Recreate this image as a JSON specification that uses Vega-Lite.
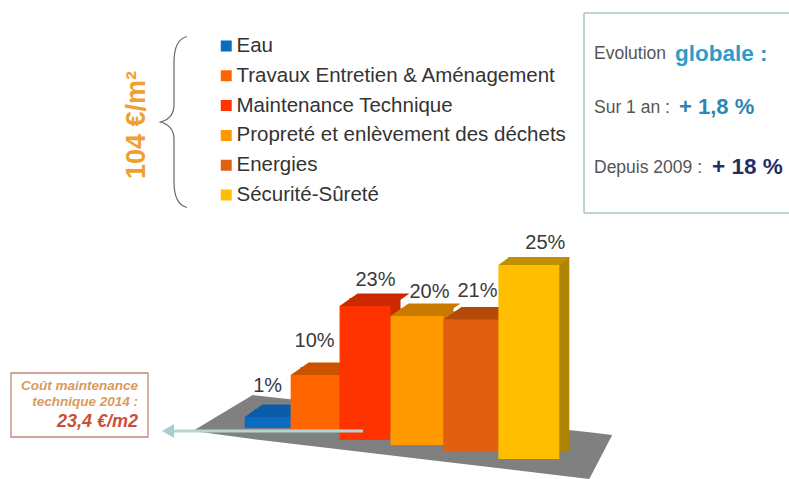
{
"$schema":"https://vega.github.io/schema/vega-lite/v6.json",
"width":789,"height":479,"padding":0,
"autosize":{"type":"fit","contains":"padding"},
"background":"white",
"config":{"view":{"stroke":null},"font":"Liberation Sans"},
"resolve":{"scale":{"color":"independent"}},
"datasets":{
"postes":[
{"poste":"Eau","part":1,"etiquette":"1%","debut":0,"fin":0.885,"haut":5.71,"base":4.31,"etiqX":0.442,"etiqY":9.645},
{"poste":"Travaux Entretien & Aménagement","part":10,"etiquette":"10%","debut":0.885,"fin":1.827,"haut":11.04,"base":3.93,"etiqX":1.346,"etiqY":15.36},
{"poste":"Maintenance Technique","part":23,"etiquette":"23%","debut":1.827,"fin":2.808,"haut":19.8,"base":2.79,"etiqX":2.519,"etiqY":23.1},
{"poste":"Propreté et enlèvement des déchets","part":20,"etiquette":"20%","debut":2.808,"fin":3.827,"haut":18.53,"base":2.16,"etiqX":3.558,"etiqY":21.57},
{"poste":"Energies","part":21,"etiquette":"21%","debut":3.827,"fin":4.885,"haut":18.08,"base":1.4,"etiqX":4.481,"etiqY":21.7},
{"poste":"Sécurité-Sûreté","part":25,"etiquette":"25%","debut":4.885,"fin":6.058,"haut":25,"base":0.38,"etiqX":5.788,"etiqY":27.79}
],
"socle":[
{"cx":-1,"h":3.93,"b":3.93},
{"cx":0.154,"h":8.5,"b":2.92},
{"cx":6.635,"h":3.76,"b":-2.157},
{"cx":7.077,"h":3.43,"b":3.43}
]
},
"layer":[
{"data":{"name":"socle"},"mark":{"type":"area","color":"#808080","interpolate":"linear"},
"encoding":{
"x":{"field":"cx","type":"quantitative","axis":null,"scale":{"domain":[-4.712,10.462],"nice":false,"zero":false}},
"y":{"field":"h","type":"quantitative","axis":null,"scale":{"domain":[-2.157,58.63],"nice":false,"zero":false}},
"y2":{"field":"b"}}},
{"data":{"name":"postes"},"mark":{"type":"rect","xOffset":10,"x2Offset":10,"yOffset":-8,"y2Offset":-8},
"encoding":{
"x":{"field":"debut","type":"quantitative"},"x2":{"field":"fin"},
"y":{"field":"haut","type":"quantitative"},"y2":{"field":"base"},
"color":{"field":"poste","type":"nominal","legend":null,"scale":{"domain":["Eau","Travaux Entretien & Aménagement","Maintenance Technique","Propreté et enlèvement des déchets","Energies","Sécurité-Sûreté"],"range":["#0B5CA8","#CC5200","#CC2900","#C97A00","#B34A0A","#AD8500"]}}}},
{"data":{"name":"postes"},"transform":[{"filter":"datum.part !== 25"}],
"mark":{"type":"point","filled":true,"opacity":1,"strokeWidth":0,"size":4900,"shape":"M0,0 L1.486,0 L2,-0.36 L0.514,-0.36 Z"},
"encoding":{
"x":{"field":"debut","type":"quantitative"},
"y":{"field":"haut","type":"quantitative"},
"color":{"field":"poste","type":"nominal","legend":null,"scale":{"domain":["Eau","Travaux Entretien & Aménagement","Maintenance Technique","Propreté et enlèvement des déchets","Energies"],"range":["#0B5CA8","#CC5200","#CC2900","#C97A00","#B34A0A"]}}}},
{"data":{"name":"postes"},"transform":[{"filter":"datum.part === 25"}],
"mark":{"type":"point","filled":true,"opacity":1,"strokeWidth":0,"size":5184,"shape":"M0,0 L1.694,0 L2,-0.222 L0.306,-0.222 Z"},
"encoding":{
"x":{"field":"debut","type":"quantitative"},
"y":{"field":"haut","type":"quantitative"},
"color":{"field":"poste","type":"nominal","legend":null,"scale":{"domain":["Sécurité-Sûreté"],"range":["#BF9000"]}}}},
{"data":{"name":"postes"},"mark":{"type":"rect"},
"encoding":{
"x":{"field":"debut","type":"quantitative"},"x2":{"field":"fin"},
"y":{"field":"haut","type":"quantitative"},"y2":{"field":"base"},
"color":{"field":"poste","type":"nominal",
"scale":{"domain":["Eau","Travaux Entretien & Aménagement","Maintenance Technique","Propreté et enlèvement des déchets","Energies","Sécurité-Sûreté"],"range":["#0A6CC0","#FF6600","#FF3300","#FF9900","#E06010","#FFBF00"]},
"legend":{"title":null,"orient":"none","legendX":216,"legendY":36,"symbolType":"square","symbolSize":120,"symbolStrokeWidth":0,"labelFont":"Liberation Sans","labelFontSize":20.5,"labelColor":"#333333","labelOffset":0,"clipHeight":20,"rowPadding":8.8,"labelLimit":400}}}},
{"data":{"name":"postes"},"mark":{"type":"text","font":"Liberation Sans","fontSize":20,"color":"#3a3a3a","baseline":"middle","align":"center"},
"encoding":{
"x":{"field":"etiqX","type":"quantitative"},
"y":{"field":"etiqY","type":"quantitative"},
"text":{"field":"etiquette"}}},
{"data":{"values":[{"t":"104 €/m²"}]},"mark":{"type":"text","x":137,"y":125,"angle":270,"align":"center","baseline":"middle","fontSize":27,"fontWeight":"bold","color":"#F0A030"},"encoding":{"text":{"field":"t"}}},
{"data":{"values":[{"n":"accolade"}]},"mark":{"type":"point","x":174,"y":122,"size":29241,"filled":false,"fill":null,"stroke":"#666666","strokeWidth":1.2,"opacity":1,"shape":"M0.15,-1 C0.03,-0.97 0,-0.85 0,-0.7 L0,-0.2 C0,-0.1 -0.05,-0.03 -0.16,0 C-0.05,0.03 0,0.1 0,0.2 L0,0.7 C0,0.85 0.03,0.97 0.15,1"},"encoding":{}},
{"data":{"values":[{"n":"haut"}]},"mark":{"type":"rule","color":"#A8C4CC","strokeWidth":1.5},"encoding":{"x":{"value":584},"x2":{"value":789},"y":{"value":13}}},
{"data":{"values":[{"n":"bas"}]},"mark":{"type":"rule","color":"#A8C4CC","strokeWidth":1.5},"encoding":{"x":{"value":584},"x2":{"value":789},"y":{"value":213}}},
{"data":{"values":[{"n":"gauche"}]},"mark":{"type":"rule","color":"#A8C4CC","strokeWidth":1.5},"encoding":{"x":{"value":584},"y":{"value":13},"y2":{"value":213}}},
{"data":{"values":[{"t":"Evolution"}]},"mark":{"type":"text","x":594,"y":54,"align":"left","baseline":"middle","fontSize":17.5,"color":"#555555"},"encoding":{"text":{"field":"t"}}},
{"data":{"values":[{"t":"globale :"}]},"mark":{"type":"text","x":675,"y":54,"align":"left","baseline":"middle","fontSize":22.5,"fontWeight":"bold","color":"#2E9CC8"},"encoding":{"text":{"field":"t"}}},
{"data":{"values":[{"t":"Sur 1 an :"}]},"mark":{"type":"text","x":594,"y":108,"align":"left","baseline":"middle","fontSize":17.5,"color":"#555555"},"encoding":{"text":{"field":"t"}}},
{"data":{"values":[{"t":"+ 1,8 %"}]},"mark":{"type":"text","x":679,"y":107,"align":"left","baseline":"middle","fontSize":22,"fontWeight":"bold","color":"#2D86B4"},"encoding":{"text":{"field":"t"}}},
{"data":{"values":[{"t":"Depuis 2009 :"}]},"mark":{"type":"text","x":594,"y":168,"align":"left","baseline":"middle","fontSize":17.5,"color":"#555555"},"encoding":{"text":{"field":"t"}}},
{"data":{"values":[{"t":"+ 18 %"}]},"mark":{"type":"text","x":712,"y":167,"align":"left","baseline":"middle","fontSize":22.5,"fontWeight":"bold","color":"#1F2F66"},"encoding":{"text":{"field":"t"}}},
{"data":{"values":[{"n":"cadre"}]},"mark":{"type":"rect","fill":"white","stroke":"#C08878","strokeWidth":1.3},"encoding":{"x":{"value":11},"x2":{"value":148},"y":{"value":373},"y2":{"value":437}}},
{"data":{"values":[{"t":"Coût maintenance"}]},"mark":{"type":"text","x":138,"y":386,"align":"right","baseline":"middle","fontSize":13.5,"fontStyle":"italic","fontWeight":"bold","color":"#D89A60"},"encoding":{"text":{"field":"t"}}},
{"data":{"values":[{"t":"technique 2014 :"}]},"mark":{"type":"text","x":138,"y":402,"align":"right","baseline":"middle","fontSize":13.5,"fontStyle":"italic","fontWeight":"bold","color":"#D89A60"},"encoding":{"text":{"field":"t"}}},
{"data":{"values":[{"t":"23,4 €/m2"}]},"mark":{"type":"text","x":138,"y":422,"align":"right","baseline":"middle","fontSize":18,"fontStyle":"italic","fontWeight":"bold","color":"#C8503A"},"encoding":{"text":{"field":"t"}}},
{"data":{"values":[{"n":"fleche"}]},"mark":{"type":"rule","color":"#B5D5D5","strokeWidth":3},"encoding":{"x":{"value":170},"x2":{"value":363},"y":{"value":431}}},
{"data":{"values":[{"n":"pointe"}]},"mark":{"type":"point","shape":"triangle-left","x":168,"y":431,"size":200,"filled":true,"opacity":1,"strokeWidth":0,"color":"#A8CFCF"},"encoding":{}}
]
}
